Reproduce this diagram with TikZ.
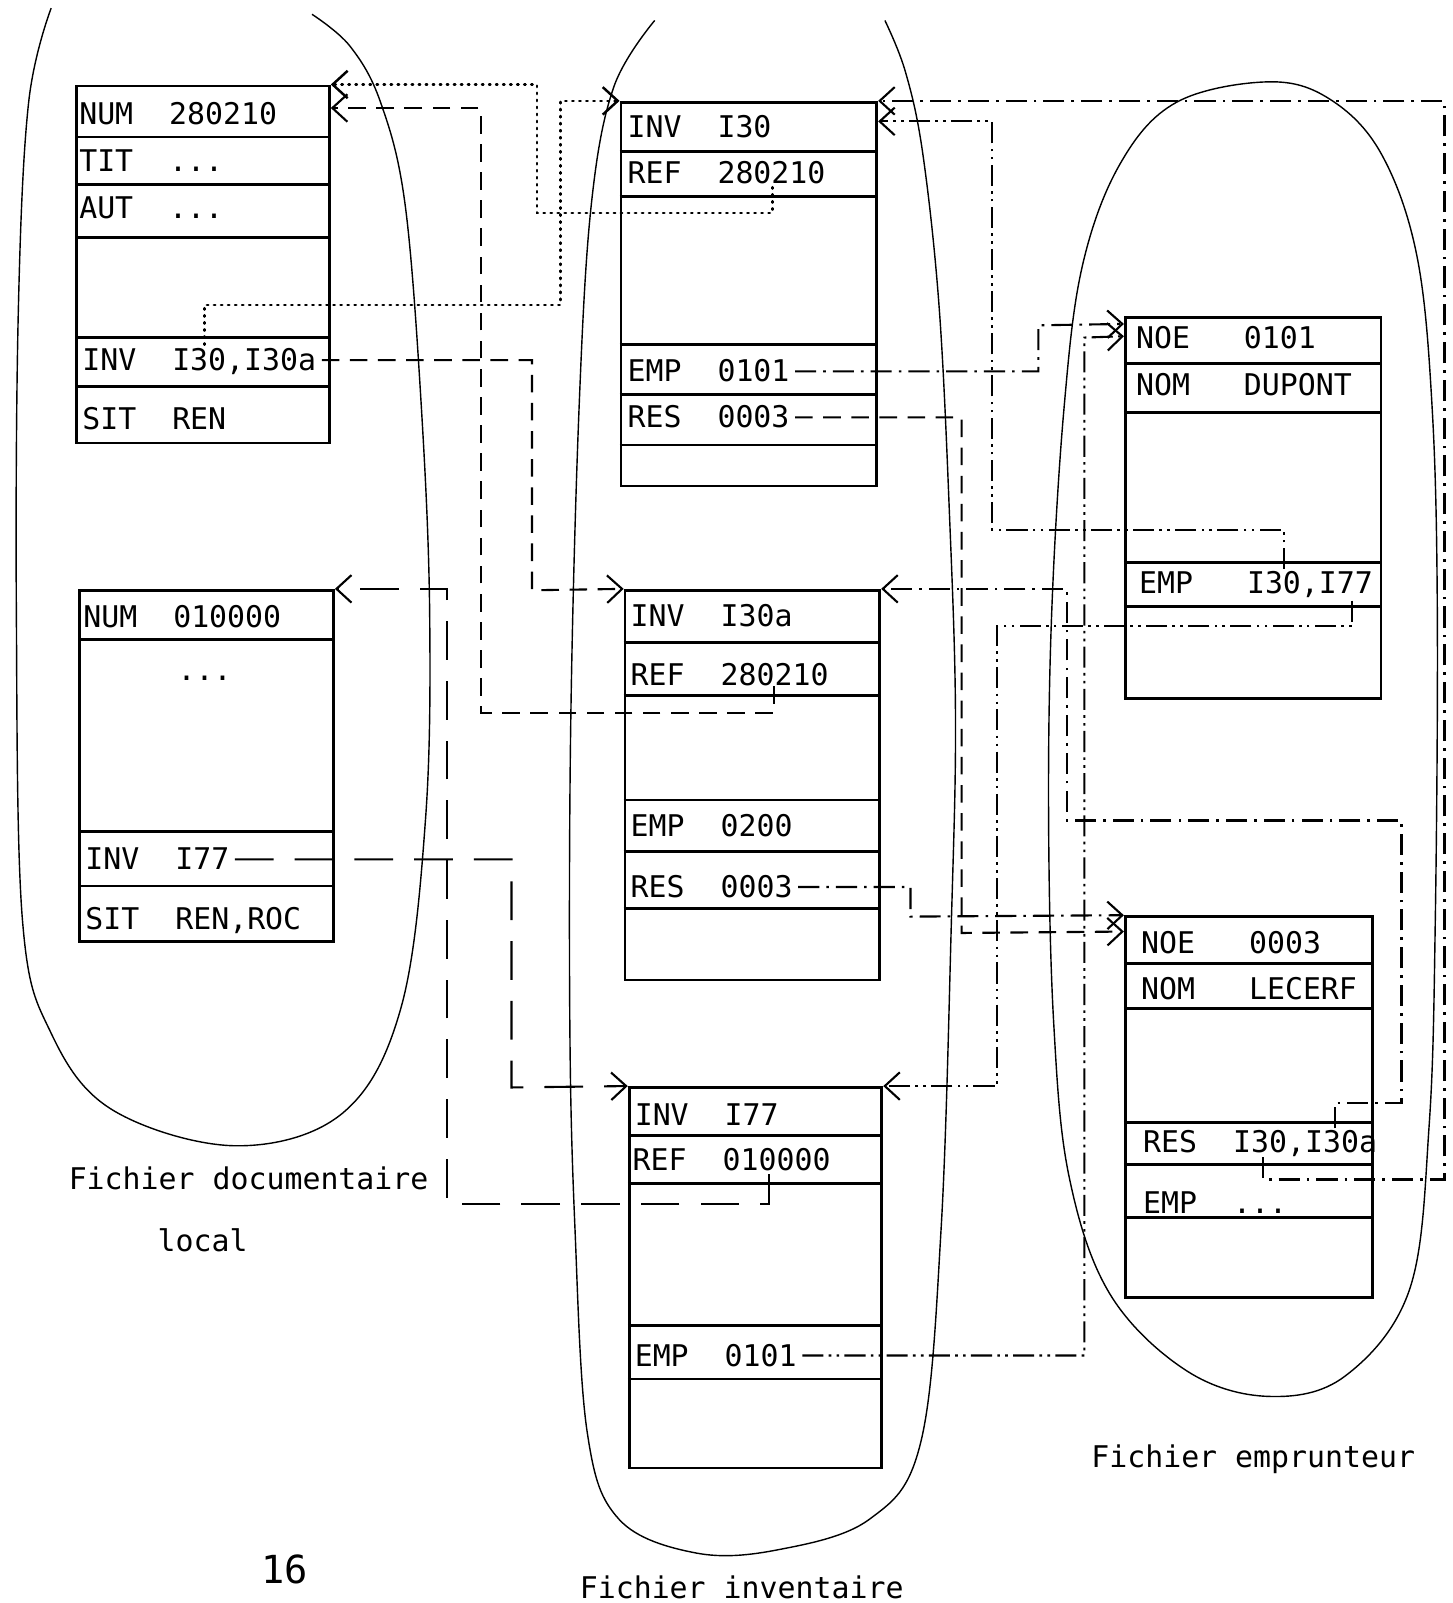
\documentclass[tikz,border=0pt]{standalone}
\usepackage{fontspec}
\newfontfamily\recfont{DejaVu Sans Mono}
\usetikzlibrary{arrows.meta, fit}

\tikzset{
  rec/.style={draw, line width=1.6pt, inner sep=0pt},
  row/.style={line width=1.6pt},
  fld/.style={anchor=west, inner sep=3pt, text height=12pt, text depth=0pt, font=\recfont\fontsize{17}{19}\selectfont},
  legend/.style={font=\recfont\fontsize{17}{19}\selectfont},
  blob/.style={line width=0.8pt},
  link/.style={line width=1.2pt, -{Straight Barb[length=3mm,width=5.5mm]}},
  dotlink/.style={link, line width=1.4pt, line cap=round, dash pattern=on 0.8pt off 3.2pt},
  dashlink/.style={link, dash pattern=on 10pt off 6pt},
  longlink/.style={link, dash pattern=on 22pt off 12pt},
  ddlink/.style={link, dash pattern=on 12pt off 4pt on 1.5pt off 4pt},
  dddlink/.style={link, dash pattern=on 12pt off 3pt on 1.5pt off 3pt on 1.5pt off 3pt}
}

\begin{document}
\begin{tikzpicture}[x=0.02046cm, y=-0.02046cm]
\useasboundingbox (0,0) rectangle (1419.35,1566.96);

%Fichier documentaire local
\draw[blob] plot[smooth, tension=0.6] coordinates {(50,8) (28,100) (18,300) (16,600) (22,900) (50,1010) (110,1085) (230,1120) (335,1088) (392,985) (416,800) (420,600) (412,400) (396,200) (372,100) (342,45) (305,14)};

\node[rec, fit={(75,84) (322,433)}] (doc1) {};
\foreach \y in {134,180,232,330,378}
\draw[row] (doc1.west |- 0,\y) -- (doc1.east |- 0,\y);
\node[fld] (d1num) at (72,111) {NUM~~280210};
\node[fld] (d1tit) at (72,157) {TIT~~...};
\node[fld] (d1aut) at (72,203) {AUT~~...};
\node[fld] (d1inv) at (75,352) {INV~~I30,I30a};
\node[fld] (d1sit) at (75,410) {SIT~~REN};

\node[rec, fit={(78,577) (326,920)}] (doc2) {};
\foreach \y in {625,813,866}
\draw[row] (doc2.west |- 0,\y) -- (doc2.east |- 0,\y);
\node[fld] (d2num) at (76,603) {NUM~~010000};
\node[fld, anchor=center] (d2etc) at (200,655) {...};
\node[fld] (d2inv) at (78,840) {INV~~I77};
\node[fld] (d2sit) at (78,898) {SIT~~REN,ROC};

\node[legend] (capdoc) at (243,1152) {Fichier documentaire};
\node[legend] (caploc) at (198,1212) {local};

%Fichier inventaire
\draw[blob] plot[smooth, tension=0.6] coordinates {(640,20) (600,85) (578,200) (566,400) (558,700) (557,1000) (562,1200) (574,1400) (605,1485) (680,1518) (760,1515) (850,1485) (900,1410) (920,1200) (930,900) (934,700) (928,500) (918,300) (902,150) (885,70) (865,20)};

\node[rec, fit={(607,100) (857,475)}] (inv1) {};
\foreach \y in {148,192,337,386,435}
\draw[row] (inv1.west |- 0,\y) -- (inv1.east |- 0,\y);
\node[fld] (i1inv) at (608,124) {INV~~I30};
\node[fld] (i1ref) at (608,169) {REF~~280210};
\node[fld] (i1emp) at (608,363) {EMP~~0101};
\node[fld] (i1res) at (608,408) {RES~~0003};

\node[rec, fit={(611,577) (860,958)}] (inv2) {};
\foreach \y in {628,680,782,832,888}
\draw[row] (inv2.west |- 0,\y) -- (inv2.east |- 0,\y);
\node[fld] (i2inv) at (611,602) {INV~~I30a};
\node[fld] (i2ref) at (611,660) {REF~~280210};
\node[fld] (i2emp) at (611,807) {EMP~~0200};
\node[fld] (i2res) at (611,867) {RES~~0003};

\node[rec, fit={(615,1063) (862,1435)}] (inv3) {};
\foreach \y in {1110,1157,1296,1348}
\draw[row] (inv3.west |- 0,\y) -- (inv3.east |- 0,\y);
\node[fld] (i3inv) at (615,1090) {INV~~I77};
\node[fld] (i3ref) at (613,1134) {REF~~010000};
\node[fld] (i3emp) at (615,1325) {EMP~~0101};

\node[legend, anchor=base] (capinv) at (725,1563) {Fichier inventaire};

%Fichier emprunteur
\draw[blob] plot[smooth cycle, tension=0.6] coordinates {(1240,80) (1150,100) (1095,160) (1058,260) (1040,400) (1028,600) (1025,800) (1030,1000) (1045,1150) (1085,1265) (1160,1340) (1240,1365) (1315,1345) (1378,1260) (1397,1100) (1403,900) (1405,600) (1400,400) (1385,250) (1350,150) (1300,97)};

\node[rec, fit={(1100,310) (1350,683)}] (emp1) {};
\foreach \y in {355,403,550,593}
\draw[row] (emp1.west |- 0,\y) -- (emp1.east |- 0,\y);
\node[fld] (e1noe) at (1105,330) {NOE~~~0101};
\node[fld] (e1nom) at (1105,376) {NOM~~~DUPONT};
\node[fld] (e1emp) at (1108,570) {EMP~~~I30,I77};

\node[rec, fit={(1100,896) (1342,1268)}] (emp2) {};
\foreach \y in {942,986,1097,1138,1190}
\draw[row] (emp2.west |- 0,\y) -- (emp2.east |- 0,\y);
\node[fld] (e2noe) at (1110,922) {NOE~~~0003};
\node[fld] (e2nom) at (1110,967) {NOM~~~LECERF};
\node[fld] (e2res) at (1112,1116) {RES~~I30,I30a};
\node[fld] (e2emp) at (1112,1176) {EMP~~...};

\node[legend] (capemp) at (1225,1426) {Fichier emprunteur};
\node[legend, font=\recfont\fontsize{22}{24}\selectfont] (pagenum) at (278,1534) {16};

%% pointers
\coordinate (d1p) at (200,337);
\coordinate (i1p) at (755,183);
\coordinate (i2p) at (757,671);
\coordinate (i3p) at (752,1148);
\coordinate (e1p) at (1255,556);
\coordinate (e1q) at (1322,587);
\coordinate (e2p) at (1305,1103);
\coordinate (e2q) at (1235,1131);

\draw[dotlink] (d1p) |- (548,298) |- (inv1.north west);
\draw[dotlink] (i1p) |- (525,208) |- (doc1.north east);
\draw[dashlink] (i2p) |- (470,697) |- ([yshift=-0.47cm]doc1.north east);
\draw[dashlink] (d1inv.east) -| (520,577) -- (inv2.north west);
\draw[longlink] (d2inv.east) -| (500,1063) -- (inv3.north west);
\draw[longlink] (i3p) |- (437,1177) |- (doc2.north east);
\draw[ddlink] (i1emp.east) -| (1015,318) -- ([yshift=-0.164cm]emp1.north west);
\draw[dddlink] (e1p) |- (970,518) |- ([yshift=-0.41cm]inv1.north east);
\draw[ddlink] (e2p) |- (1370,1078) |- (1043,802) |- (inv2.north east);
\draw[ddlink] (e2q) |- (1412,1153) |- (inv1.north east);
\draw[dddlink] (e1q) |- (975,612) |- (inv3.north east);
\draw[ddlink] (i2res.east) -| (890,896) -- (emp2.north west);
\draw[dashlink] (i1res.east) -| (940,912) -- ([yshift=-0.327cm]emp2.north west);
\draw[dddlink] (i3emp.east) -| (1060,330) -- ([yshift=-0.41cm]emp1.north west);
\end{tikzpicture}
\end{document}
